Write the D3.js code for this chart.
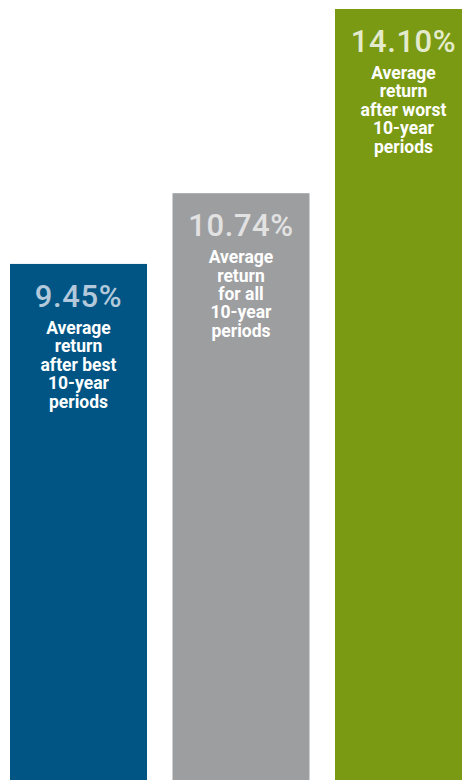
<!DOCTYPE html>
<html>
<head>
<meta charset="utf-8">
<script src="https://cdn.jsdelivr.net/npm/d3@7"></script>
<style>
  html, body { margin: 0; padding: 0; background: #fff; overflow: hidden; }
  svg { display: block; }
</style>
</head>
<body>
<svg></svg>
<script>
const categories = ["best", "all", "worst"];
const values = [9.45, 10.74, 14.10];
const valueLabels = ["9.45%", "10.74%", "14.10%"];
const descriptions = [
    ["Average", "return", "after best", "10-year", "periods"],
    ["Average", "return", "for all", "10-year", "periods"],
    ["Average", "return", "after worst", "10-year", "periods"]
];
const barColors = ["#005584", "#9d9ea0", "#7a9a13"];
const valueColors = ["#b3c8da", "#e2e2e3", "#e4ebcd"];

let svgWidth = 462;
let svgHeight = 780;
let svg = d3.select("svg")
    .attr("width", svgWidth)
    .attr("height", svgHeight)

let xScale = d3.scaleBand()
    .domain(categories)
    .range([10, 472])
    .paddingInner(0.157)
    .paddingOuter(0)

let yScale = d3.scaleLinear()
    .domain([0, 14.10])
    .range([782, 9])

let bars = svg.selectAll("g.bar")
    .data(categories)
    .enter()
    .append("g")
    .attr("class", "bar")
    .attr("transform", (d, i) => `translate(${xScale(d)}, ${yScale(values[i])})`)

bars.append("rect")
    .attr("width", xScale.bandwidth())
    .attr("height", (d, i) => yScale(0) - yScale(values[i]))
    .attr("fill", (d, i) => barColors[i])

//big percentage at the top of each bar
bars.append("text")
    .attr("x", xScale.bandwidth() / 2)
    .attr("y", 43)
    .attr("text-anchor", "middle")
    .style("font-family", "Roboto, sans-serif")
    .style("font-size", "31px")
    .style("font-weight", "500")
    .style("letter-spacing", "0.6px")
    .style("fill", (d, i) => valueColors[i])
    .text((d, i) => valueLabels[i])

//white description lines
bars.each(function(d, i) {
    d3.select(this).append("text")
        .attr("x", xScale.bandwidth() / 2)
        .attr("y", 70)
        .attr("text-anchor", "middle")
        .style("font-family", "Roboto, sans-serif")
        .style("font-size", "17.5px")
        .style("font-weight", "bold")
        .style("fill", "#ffffff")
        .selectAll("tspan")
        .data(descriptions[i])
        .enter()
        .append("tspan")
        .attr("x", xScale.bandwidth() / 2)
        .attr("dy", (t, j) => j === 0 ? 0 : 18.4)
        .text(t => t)
})
</script>
</body>
</html>
